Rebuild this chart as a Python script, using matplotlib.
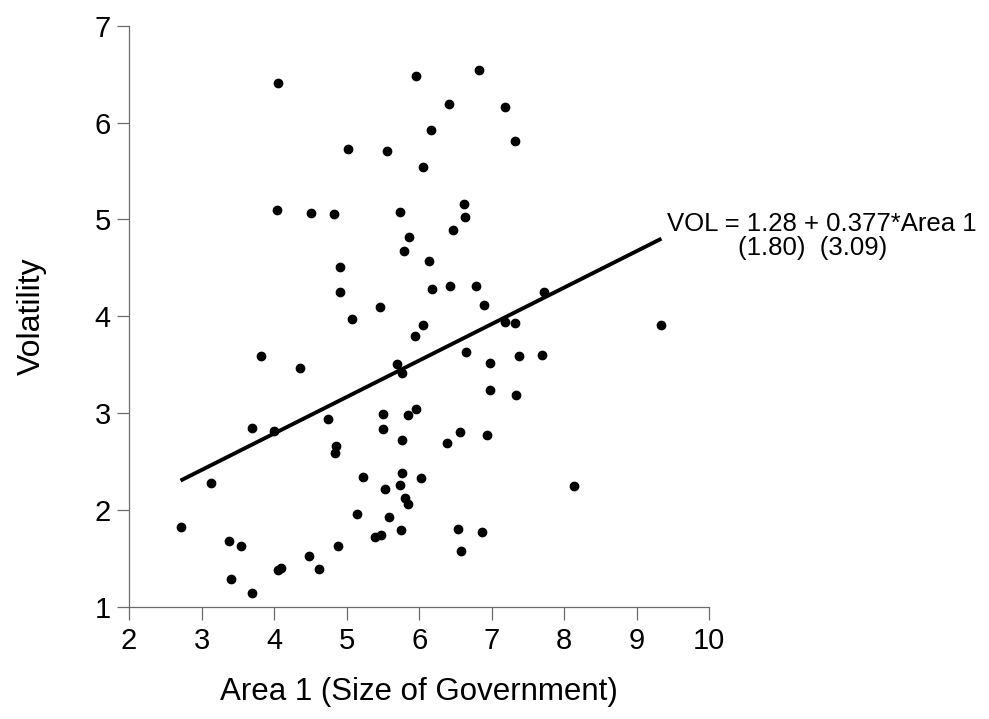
import numpy as np
import matplotlib
matplotlib.use("Agg")
import matplotlib.pyplot as plt

plt.rcParams['font.family'] = ['Liberation Sans', 'DejaVu Sans']

# Area 1 (Size of Government) vs volatility
area1 = [
    4.06, 5.96, 6.16, 5.02, 5.56, 6.05, 4.04, 4.51, 4.82, 5.74,
    5.86, 5.79, 6.14, 4.91, 4.91, 6.18, 5.46, 5.08, 6.82, 6.41,
    7.19, 7.32, 6.62, 6.63, 6.47, 6.43, 6.78, 6.90, 7.72, 6.05,
    5.94, 3.82, 4.36, 5.69, 5.76, 3.69, 4.00, 4.74, 5.50, 5.95,
    5.85, 5.50, 5.76, 4.85, 4.84, 3.13, 2.71, 5.23, 5.77, 5.74,
    6.02, 5.53, 5.80, 5.85, 5.15, 5.58, 5.75, 5.39, 5.47, 3.38,
    3.55, 4.88, 4.48, 4.05, 4.09, 4.62, 3.41, 3.69, 7.19, 7.32,
    9.34, 6.65, 6.98, 7.38, 7.69, 6.97, 7.33, 6.56, 6.39, 6.94,
    8.13, 6.54, 6.87, 6.58,
]
volatility = [
    6.41, 6.48, 5.92, 5.73, 5.71, 5.54, 5.10, 5.07, 5.06, 5.08,
    4.82, 4.67, 4.57, 4.51, 4.25, 4.28, 4.10, 3.97, 6.54, 6.19,
    6.16, 5.81, 5.16, 5.02, 4.89, 4.31, 4.31, 4.12, 4.25, 3.91,
    3.80, 3.59, 3.47, 3.51, 3.41, 2.85, 2.81, 2.94, 2.99, 3.04,
    2.98, 2.83, 2.72, 2.66, 2.59, 2.28, 1.82, 2.34, 2.38, 2.26,
    2.33, 2.21, 2.12, 2.06, 1.96, 1.93, 1.79, 1.72, 1.74, 1.68,
    1.63, 1.63, 1.52, 1.38, 1.40, 1.39, 1.28, 1.14, 3.94, 3.93,
    3.91, 3.63, 3.52, 3.59, 3.60, 3.24, 3.19, 2.80, 2.69, 2.77,
    2.25, 1.80, 1.77, 1.57,
]

intercept = 1.28
slope = 0.377
x_ticks = [2, 3, 4, 5, 6, 7, 8, 9, 10]
y_ticks = [1, 2, 3, 4, 5, 6, 7]

fig = plt.figure(figsize=(9.89, 7.19), dpi=100)
ax = fig.add_axes([129 / 989, 1 - 606.6 / 719, 580.3 / 989, 580.8 / 719])

ax.plot(area1, volatility, 'o', color='black', markersize=6, linestyle='none')

# fitted line over the range of the data
xs = np.array([min(area1), max(area1)])
ax.plot(xs, intercept + slope * xs, color='black', linewidth=2.8, solid_capstyle='butt')

ax.set_xlim(2, 10)
ax.set_ylim(1, 7)
ax.set_xticks(x_ticks)
ax.set_yticks(y_ticks)
ax.tick_params(axis='both', direction='out', length=9, width=0.9, color='#6b6b6b',
               labelsize=21)
ax.tick_params(axis='x', pad=6)
ax.tick_params(axis='y', pad=4)
for side in ['top', 'right']:
    ax.spines[side].set_visible(False)
for side in ['left', 'bottom']:
    ax.spines[side].set_color('#6b6b6b')
    ax.spines[side].set_linewidth(0.9)

fig.text(419 / 989, 1 - 692 / 719, 'Area 1 (Size of Government)', fontsize=22.5,
         ha='center', va='center')
fig.text(32 / 989, 1 - 316 / 719, 'Volatility', fontsize=23, rotation=90,
         ha='center', va='center')

# regression equation with t-statistics
fig.text(667 / 989, 1 - 224 / 719, 'VOL = 1.28 + 0.377*Area 1', fontsize=18.5,
         ha='left', va='center')
fig.text(813 / 989, 1 - 248 / 719, '(1.80)  (3.09)', fontsize=18.5,
         ha='center', va='center')

fig.savefig('out.png', dpi=100)
